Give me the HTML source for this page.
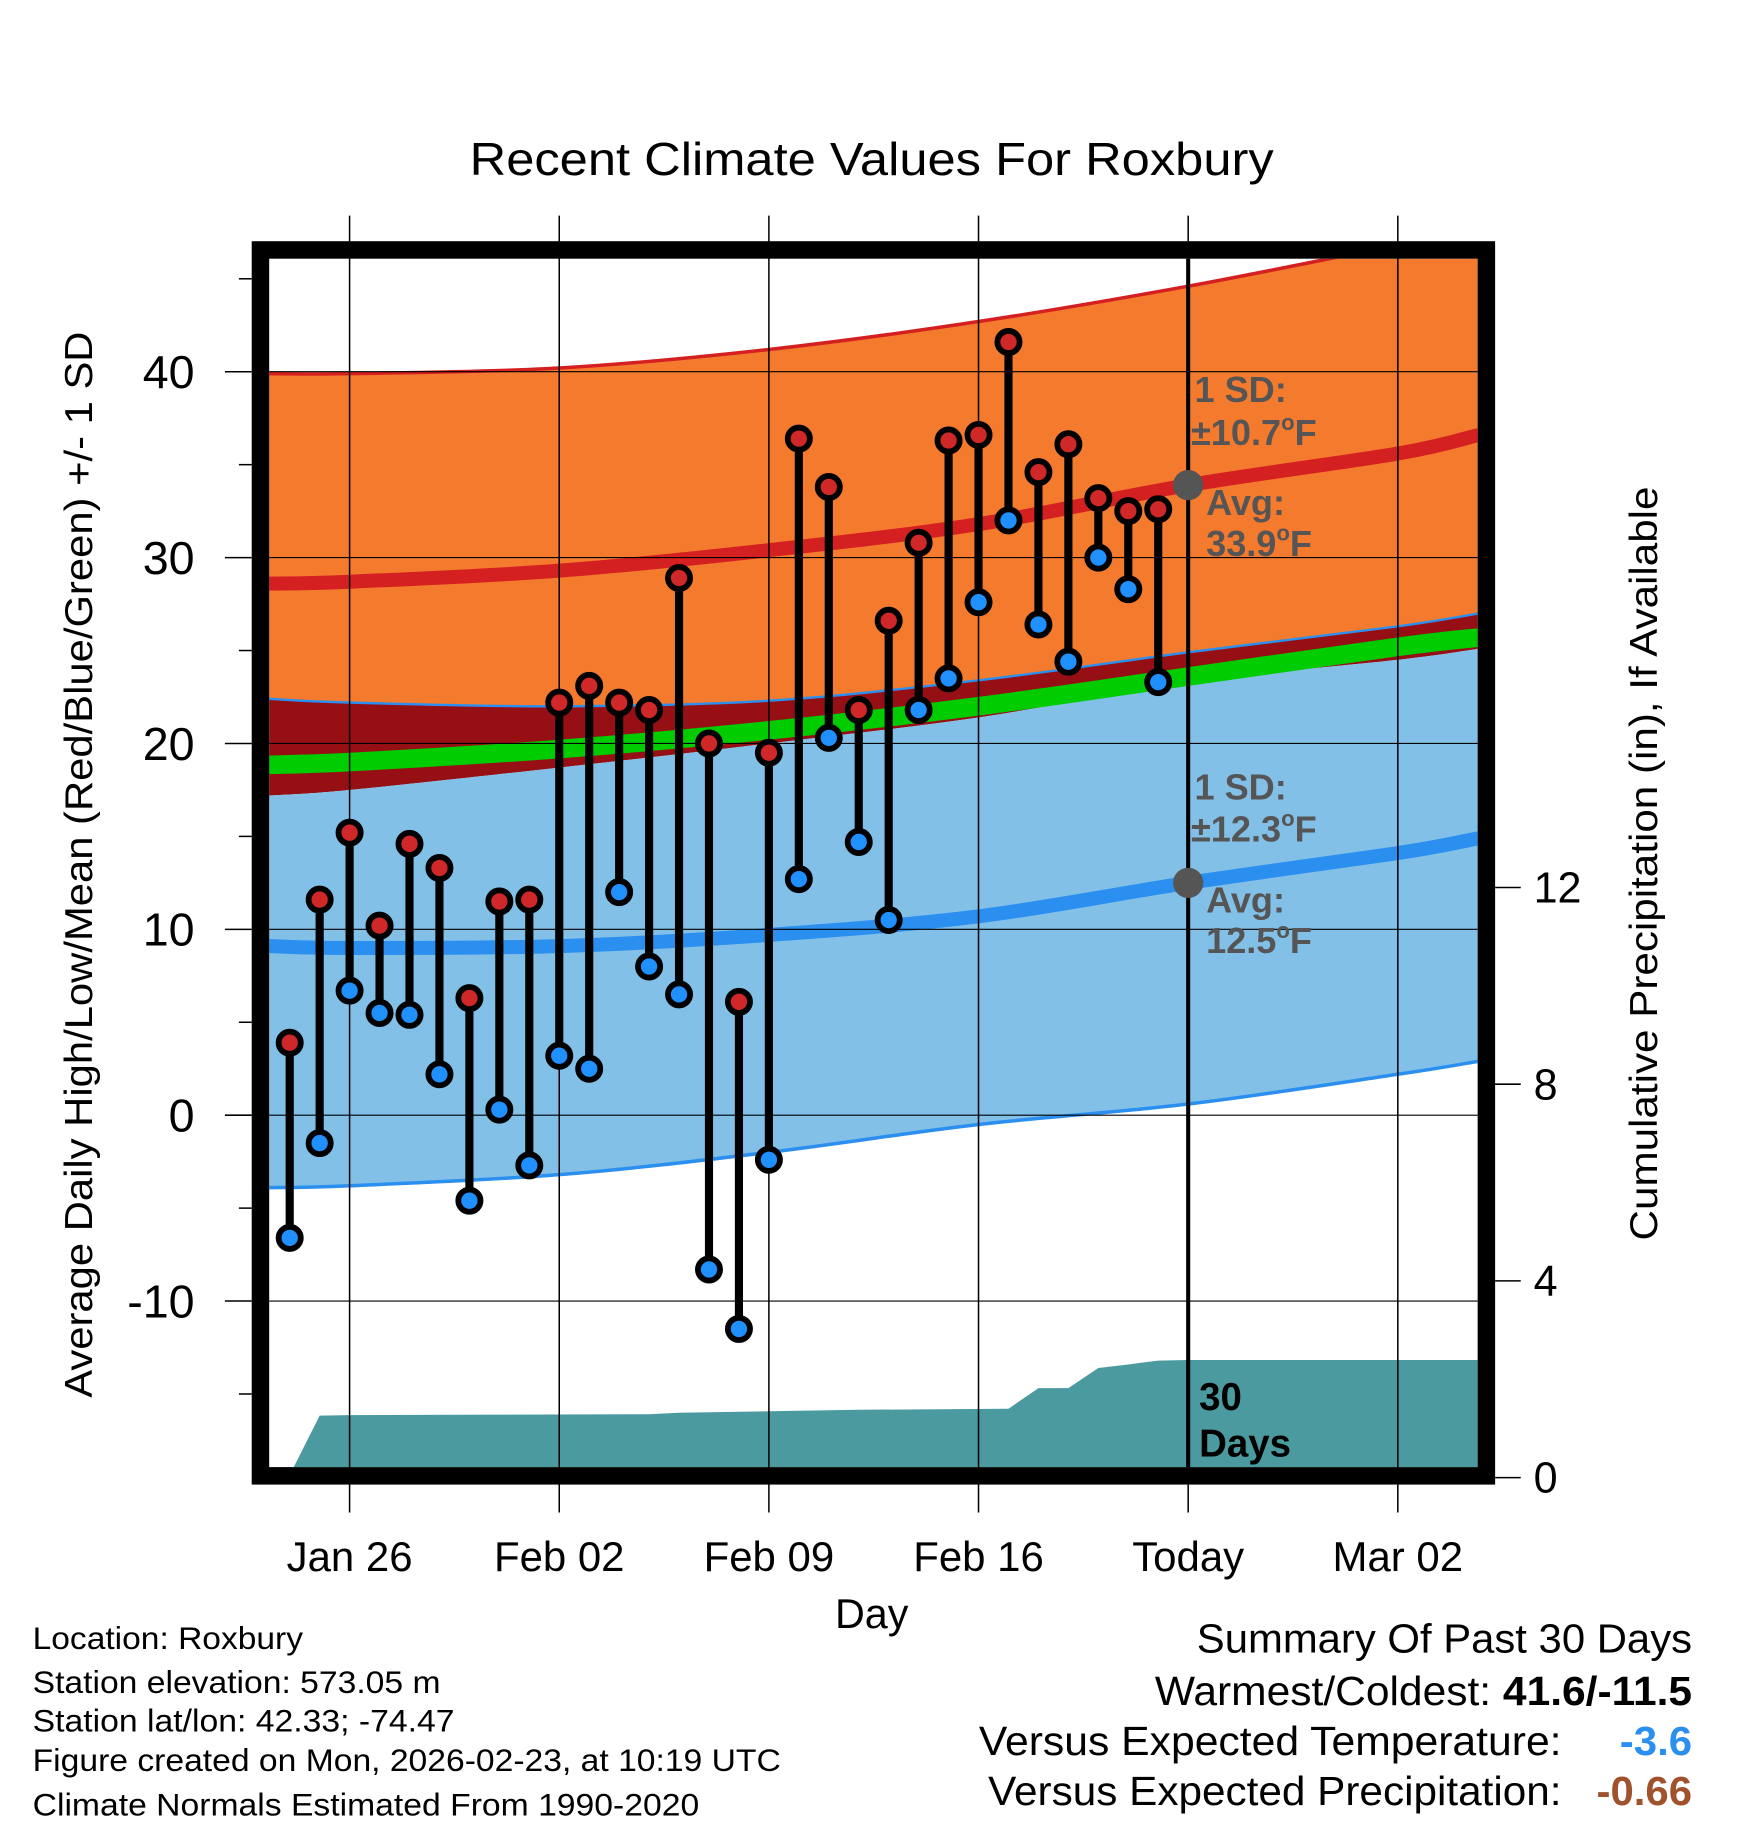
<!DOCTYPE html>
<html><head><meta charset="utf-8"><style>html,body{margin:0;padding:0;background:#fff}svg{display:block}text{font-family:"Liberation Sans",sans-serif}</style></head>
<body>
<svg id="chart" width="1748" height="1828" viewBox="0 0 1500 1568.7" preserveAspectRatio="none" xmlns="http://www.w3.org/2000/svg">
<text x="748" y="150" font-size="40" text-anchor="middle" textLength="690" lengthAdjust="spacingAndGlyphs">Recent Climate Values For Roxbury</text>
<g id="bands"></g><g id="grid"></g><g id="marks"></g><g id="axes"></g>
<text transform="translate(79,742) rotate(-90)" font-size="33" text-anchor="middle" textLength="915" lengthAdjust="spacingAndGlyphs">Average Daily High/Low/Mean (Red/Blue/Green) +/- 1 SD</text>
<text transform="translate(1422,741) rotate(-90)" font-size="33" text-anchor="middle" textLength="647" lengthAdjust="spacingAndGlyphs">Cumulative Precipitation (in), If Available</text>
<text x="748" y="1397" font-size="36" text-anchor="middle" textLength="63" lengthAdjust="spacingAndGlyphs">Day</text>
<g font-size="27">
<text x="28" y="1415" textLength="232" lengthAdjust="spacingAndGlyphs">Location: Roxbury</text>
<text x="28" y="1453" textLength="350" lengthAdjust="spacingAndGlyphs">Station elevation: 573.05 m</text>
<text x="28" y="1486" textLength="362" lengthAdjust="spacingAndGlyphs">Station lat/lon: 42.33; -74.47</text>
<text x="28" y="1520" textLength="642" lengthAdjust="spacingAndGlyphs">Figure created on Mon, 2026-02-23, at 10:19 UTC</text>
<text x="28" y="1558" textLength="572" lengthAdjust="spacingAndGlyphs">Climate Normals Estimated From 1990-2020</text>
</g>
<g font-size="35">
<text x="1027" y="1418" textLength="425" lengthAdjust="spacingAndGlyphs">Summary Of Past 30 Days</text>
<text x="991" y="1463" textLength="461" lengthAdjust="spacingAndGlyphs">Warmest/Coldest: <tspan font-weight="bold">41.6/-11.5</tspan></text>
<text x="840" y="1506" textLength="500" lengthAdjust="spacingAndGlyphs">Versus Expected Temperature:</text>
<text x="1390" y="1506" font-weight="bold" fill="#2a8fef" textLength="62" lengthAdjust="spacingAndGlyphs">-3.6</text>
<text x="848" y="1549" textLength="492" lengthAdjust="spacingAndGlyphs">Versus Expected Precipitation:</text>
<text x="1370" y="1549" font-weight="bold" fill="#a0522d" textLength="82" lengthAdjust="spacingAndGlyphs">-0.66</text>
</g>
</svg>
<script>
const days=[-2,-1,0,1,2,3,4,5,6,7,8,9,10,11,12,13,14,15,16,17,18,19,20,21,22,23,24,25,26,27];
const highs=[3.9,11.6,15.2,10.2,14.6,13.3,6.3,11.5,11.6,22.2,23.1,22.2,21.8,28.9,20.0,6.1,19.5,36.4,33.8,21.8,26.6,30.8,36.3,36.6,41.6,34.6,36.1,33.2,32.5,32.6];
const lows=[-6.6,-1.5,6.7,5.5,5.4,2.2,-4.6,0.3,-2.7,3.2,2.5,12.0,8.0,6.5,-8.3,-11.5,-2.4,12.7,20.3,14.7,10.5,21.8,23.5,27.6,32.0,26.4,24.4,30.0,28.3,23.3];
const normDays=[-2.7,0,7,14,21,28,35,37.7];
const avgHigh=[28.6,28.7,29.3,30.4,31.8,33.9,35.6,36.6];
const highUpper=[39.9,39.9,40.2,41.2,42.7,44.6,46.8,47.5];
const highLower=[22.4,22.2,22.0,22.3,23.4,24.9,26.3,27.0];
const lowUpper=[17.2,17.5,18.7,20.0,21.4,23.3,24.5,25.1];
const avgMean=[18.85,19.0,19.7,20.7,22.0,23.6,25.2,25.7];
const avgLow=[9.1,9.0,9.1,9.7,10.7,12.5,14.1,14.9];
const lowLower=[-3.9,-3.8,-3.2,-2.0,-0.5,0.6,2.2,2.9];
const precipDays=[-2,-1,0,5,10,11,16,17,22,23,24,25,26,27,28,37.7];
const precipCum=[0.05,1.26,1.27,1.28,1.29,1.32,1.37,1.38,1.40,1.82,1.82,2.23,2.30,2.38,2.39,2.39];
const yTicks=[40,30,20,10,0,-10];
const y2Ticks=[0,4,8,12];
const xTickDays=[0,7,14,21,28,35];
const xTickLabels=["Jan 26","Feb 02","Feb 09","Feb 16","Today","Mar 02"];
const todayDay=28,avgHighToday=33.9,avgLowToday=12.5,highSD=10.7,lowSD=12.3;
const NS="http://www.w3.org/2000/svg";
const L=231,R=1268,T=222,B=1259;
const X=d=>300+25.7*d;
const Y=v=>957-15.95*v;
const Y2=v=>1268-42.2*v;
function mk(tag,attrs,parent){const e=document.createElementNS(NS,tag);for(const k in attrs)e.setAttribute(k,attrs[k]);(typeof parent==="string"?document.getElementById(parent):parent).appendChild(e);return e;}
function P(xs,ys){return xs.map((d,i)=>[X(d),Y(ys[i])]);}
function spline(p,start){let s=(start?"M":"L")+p[0][0].toFixed(1)+","+p[0][1].toFixed(1);
 for(let i=0;i<p.length-1;i++){const p0=p[Math.max(i-1,0)],p1=p[i],p2=p[i+1],p3=p[Math.min(i+2,p.length-1)];
  const c1=[p1[0]+(p2[0]-p0[0])/6,p1[1]+(p2[1]-p0[1])/6],c2=[p2[0]-(p3[0]-p1[0])/6,p2[1]-(p3[1]-p1[1])/6];
  s+=" C"+c1.map(v=>v.toFixed(1)).join(",")+" "+c2.map(v=>v.toFixed(1)).join(",")+" "+p2.map(v=>v.toFixed(1)).join(",");}
 return s;}
function band(up,lo,fill,name){const d=spline(P(normDays,up),true)+" "+spline(P(normDays,lo).reverse(),false)+" Z";const el=mk("path",{d:d,fill:fill},"bands");return el;}
const cp=mk("clipPath",{id:"clip"},"bands");mk("rect",{x:L,y:T,width:R-L,height:B-T},cp);
document.getElementById("bands").setAttribute("clip-path","url(#clip)");
band(highUpper,highLower,"#f47a2e","high-sd-band");
band(highLower,lowUpper,"#960f14","overlap-band");
band(lowUpper,lowLower,"#82c0e8","low-sd-band");
let e;
function drawLine(arr,stroke,w,name){e=mk("path",{d:spline(P(normDays,arr),true),fill:"none",stroke:stroke,"stroke-width":w},"bands");}
drawLine(highUpper,"#d42020",3,"high-upper-line");
drawLine(highLower,"#2a8fef",2,"high-lower-line");
drawLine(lowLower,"#2a8fef",3,"low-lower-line");
drawLine(avgMean,"#00cc00",16,"avg-mean-line");
drawLine(avgHigh,"#d42020",12,"avg-high-line");
drawLine(avgLow,"#2a8fef",12,"avg-low-line");
const pp=precipDays.map((d,i)=>X(d).toFixed(1)+","+Y2(precipCum[i]).toFixed(1));pp.push(X(precipDays[precipDays.length-1]).toFixed(1)+","+B,X(precipDays[0]).toFixed(1)+","+B);
e=mk("polygon",{points:pp.join(" "),fill:"#4a9aa0"},"bands");

yTicks.forEach(v=>{e=mk("line",{x1:L,x2:R,y1:Y(v),y2:Y(v),stroke:"#000","stroke-width":1},"grid");});
xTickDays.forEach(d=>{e=mk("line",{x1:X(d),x2:X(d),y1:185,y2:1298,stroke:"#000","stroke-width":1.3},"grid");});
e=mk("line",{x1:X(todayDay),x2:X(todayDay),y1:T,y2:B,stroke:"#000","stroke-width":3.5},"marks");

days.forEach((d,i)=>{
 e=mk("line",{x1:X(d),x2:X(d),y1:Y(highs[i]),y2:Y(lows[i]),stroke:"#000","stroke-width":7},"marks");
 
});
days.forEach((d,i)=>{
 e=mk("circle",{cx:X(d),cy:Y(highs[i]),r:9.5,fill:"#d02828",stroke:"#000","stroke-width":5},"marks");
 
 e=mk("circle",{cx:X(d),cy:Y(lows[i]),r:9.5,fill:"#2090ff",stroke:"#000","stroke-width":5},"marks");
 
});
e=mk("circle",{cx:X(todayDay),cy:Y(avgHighToday),r:13,fill:"#555"},"marks");

e=mk("circle",{cx:X(todayDay),cy:Y(avgLowToday),r:13,fill:"#555"},"marks");

const ga={"font-size":31,"font-weight":"bold",fill:"#555"};
function txt(x,y,s,name,attrs,deg){const t=mk("text",Object.assign({x:x,y:y},attrs),"marks");
 t.appendChild(document.createTextNode(s));
 if(deg){const a=mk("tspan",{"font-size":19,dy:-13},t);a.textContent="o";const b=mk("tspan",{dy:13},t);b.textContent="F";}
 return t;}
txt(1025,345,"1 SD:","high-sd-label",ga,false);
txt(1022,382,"±"+highSD,"high-sd-value",ga,true);
txt(1035,442,"Avg:","high-avg-label",ga,false);
txt(1035,477,String(avgHighToday),"high-avg-value",ga,true);
txt(1025,686,"1 SD:","low-sd-label",ga,false);
txt(1022,722,"±"+lowSD,"low-sd-value",ga,true);
txt(1035,783,"Avg:","low-avg-label",ga,false);
txt(1035,818,String(avgLowToday),"low-avg-value",ga,true);
const ba={"font-size":33,"font-weight":"bold",fill:"#000"};
txt(1029,1210,"30","days-label",ba,false);txt(1029,1250,"Days","days-label-2",ba,false);
e=mk("rect",{x:223.5,y:214.5,width:1052,height:1052,fill:"none",stroke:"#000","stroke-width":15},"axes");

yTicks.forEach(v=>{
 e=mk("line",{x1:193,x2:216,y1:Y(v),y2:Y(v),stroke:"#000","stroke-width":1.3},"axes");
 e=mk("text",{x:167,y:Y(v)+14,"font-size":40,"text-anchor":"end"},"axes");e.textContent=v;
});
for(let v=45;v>-20;v-=5){if(v%10!==0){e=mk("line",{x1:205,x2:216,y1:Y(v),y2:Y(v),stroke:"#000","stroke-width":1.3},"axes");}}
y2Ticks.forEach(v=>{
 e=mk("line",{x1:1283,x2:1305,y1:Y2(v),y2:Y2(v),stroke:"#000","stroke-width":1.3},"axes");
 e=mk("text",{x:1316,y:Y2(v)+13,"font-size":37},"axes");e.textContent=v;
});
xTickDays.forEach((d,i)=>{
 e=mk("text",{x:X(d),y:1348,"font-size":36,"text-anchor":"middle"},"axes");e.textContent=xTickLabels[i];
});
</script>
</body></html>
